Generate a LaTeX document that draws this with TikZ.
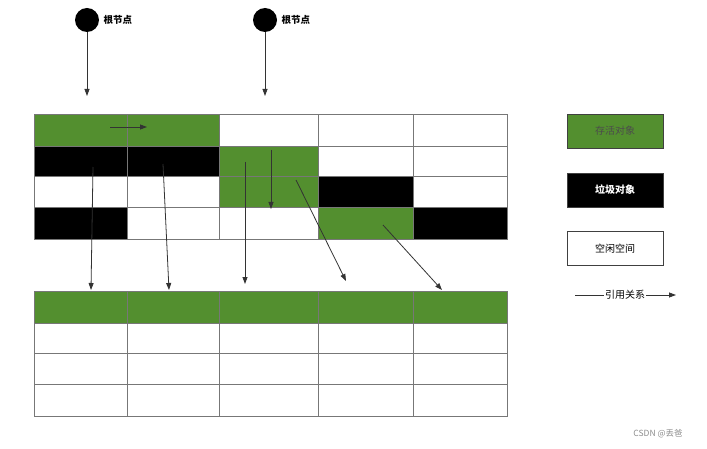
\documentclass[tikz,border=0pt]{standalone}
\usepackage{fontspec}
\setmainfont{Noto Sans CJK SC}
\usetikzlibrary{arrows.meta}
\definecolor{gr}{HTML}{538F2F}
\definecolor{ln}{HTML}{777777}
\tikzset{cellg/.style={fill=gr,draw=ln},cellb/.style={fill=black,draw=ln},cellw/.style={fill=white,draw=ln},
arr/.style={draw=black!80,thick,-{Triangle[length=7pt,width=5pt]}},
leg/.style={draw=black!75,line width=0.8pt,minimum width=96pt,minimum height=34pt,inner sep=0pt,font=\fontsize{10}{12}\selectfont},
root/.style={circle,fill=black,minimum size=24pt,inner sep=0pt}}
\begin{document}
\begin{tikzpicture}[x=1pt,y=-1pt]
\useasboundingbox (0,0) rectangle (707,449);
\def\xs{{34,127,219,318,413,507}}
% top grid
\foreach \r/\y/\yy/\cols in {0/114/146/{g,g,w,w,w},1/146/176/{b,b,g,w,w},2/176/207/{w,w,g,b,w},3/207/239/{b,w,w,g,b}}{
  \foreach \c [count=\i from 0] in \cols {
    \pgfmathsetmacro\xa{\xs[\i]}\pgfmathsetmacro\xb{\xs[\i+1]}
    \draw[cell\c] (\xa,\y) rectangle (\xb,\yy);
  }}
\foreach \y/\yy/\cols in {291/323/{g,g,g,g,g},323/353/{w,w,w,w,w},353/384/{w,w,w,w,w},384/416/{w,w,w,w,w}}{
  \foreach \c [count=\i from 0] in \cols {
    \pgfmathsetmacro\xa{\xs[\i]}\pgfmathsetmacro\xb{\xs[\i+1]}
    \draw[cell\c] (\xa,\y) rectangle (\xb,\yy);
  }}
\node[root] (r1) at (87,20) {};
\node[anchor=west,font=\fontsize{9.5}{11}\selectfont\bfseries] (l1) at (100,20) {根节点};
\node[root] (r2) at (265,20) {};
\node[anchor=west,font=\fontsize{9.5}{11}\selectfont\bfseries] (l2) at (278,20) {根节点};
\coordinate (t1) at (87,96); \coordinate (t2) at (265,96);
\draw[arr] (r1) -- (t1);
\draw[arr] (r2) -- (t2);
\coordinate (a1) at (110,127); \coordinate (a2) at (147,127);
\draw[arr] (a1) -- (a2);
\coordinate (b1) at (93,167); \coordinate (b2) at (91,290);
\draw[arr] (b1) -- (b2);
\coordinate (c1) at (163,164); \coordinate (c2) at (169,290);
\draw[arr] (c1) -- (c2);
\coordinate (d1) at (245,162); \coordinate (d2) at (245,284);
\draw[arr] (d1) -- (d2);
\coordinate (e1) at (271,150); \coordinate (e2) at (271,209);
\draw[arr] (e1) -- (e2);
\coordinate (f1) at (296,180); \coordinate (f2) at (346,281);
\draw[arr] (f1) -- (f2);
\coordinate (g1) at (383,225); \coordinate (g2) at (442,290);
\draw[arr] (g1) -- (g2);
% legend
\node[leg,fill=gr,text=black!70] (k1) at (615,131) {存活对象};
\node[leg,fill=black,text=white,font=\fontsize{10}{12}\selectfont\bfseries] (k2) at (615,190) {垃圾对象};
\node[leg,fill=white] (k3) at (615,248.5) {空闲空间};
\node[fill=white,inner sep=1pt,font=\fontsize{10}{12}\selectfont] (k4) at (625,295) {引用关系};
\coordinate (h1) at (575,295); \coordinate (h2) at (676,295);
\draw[thick,black!80] (h1) -- (k4.west);
\draw[arr] (k4.east) -- (h2);
\node[text=black!45,font=\fontsize{8.5}{10}\selectfont] (wm) at (658,434) {CSDN @丢爸};
\end{tikzpicture}
\end{document}
